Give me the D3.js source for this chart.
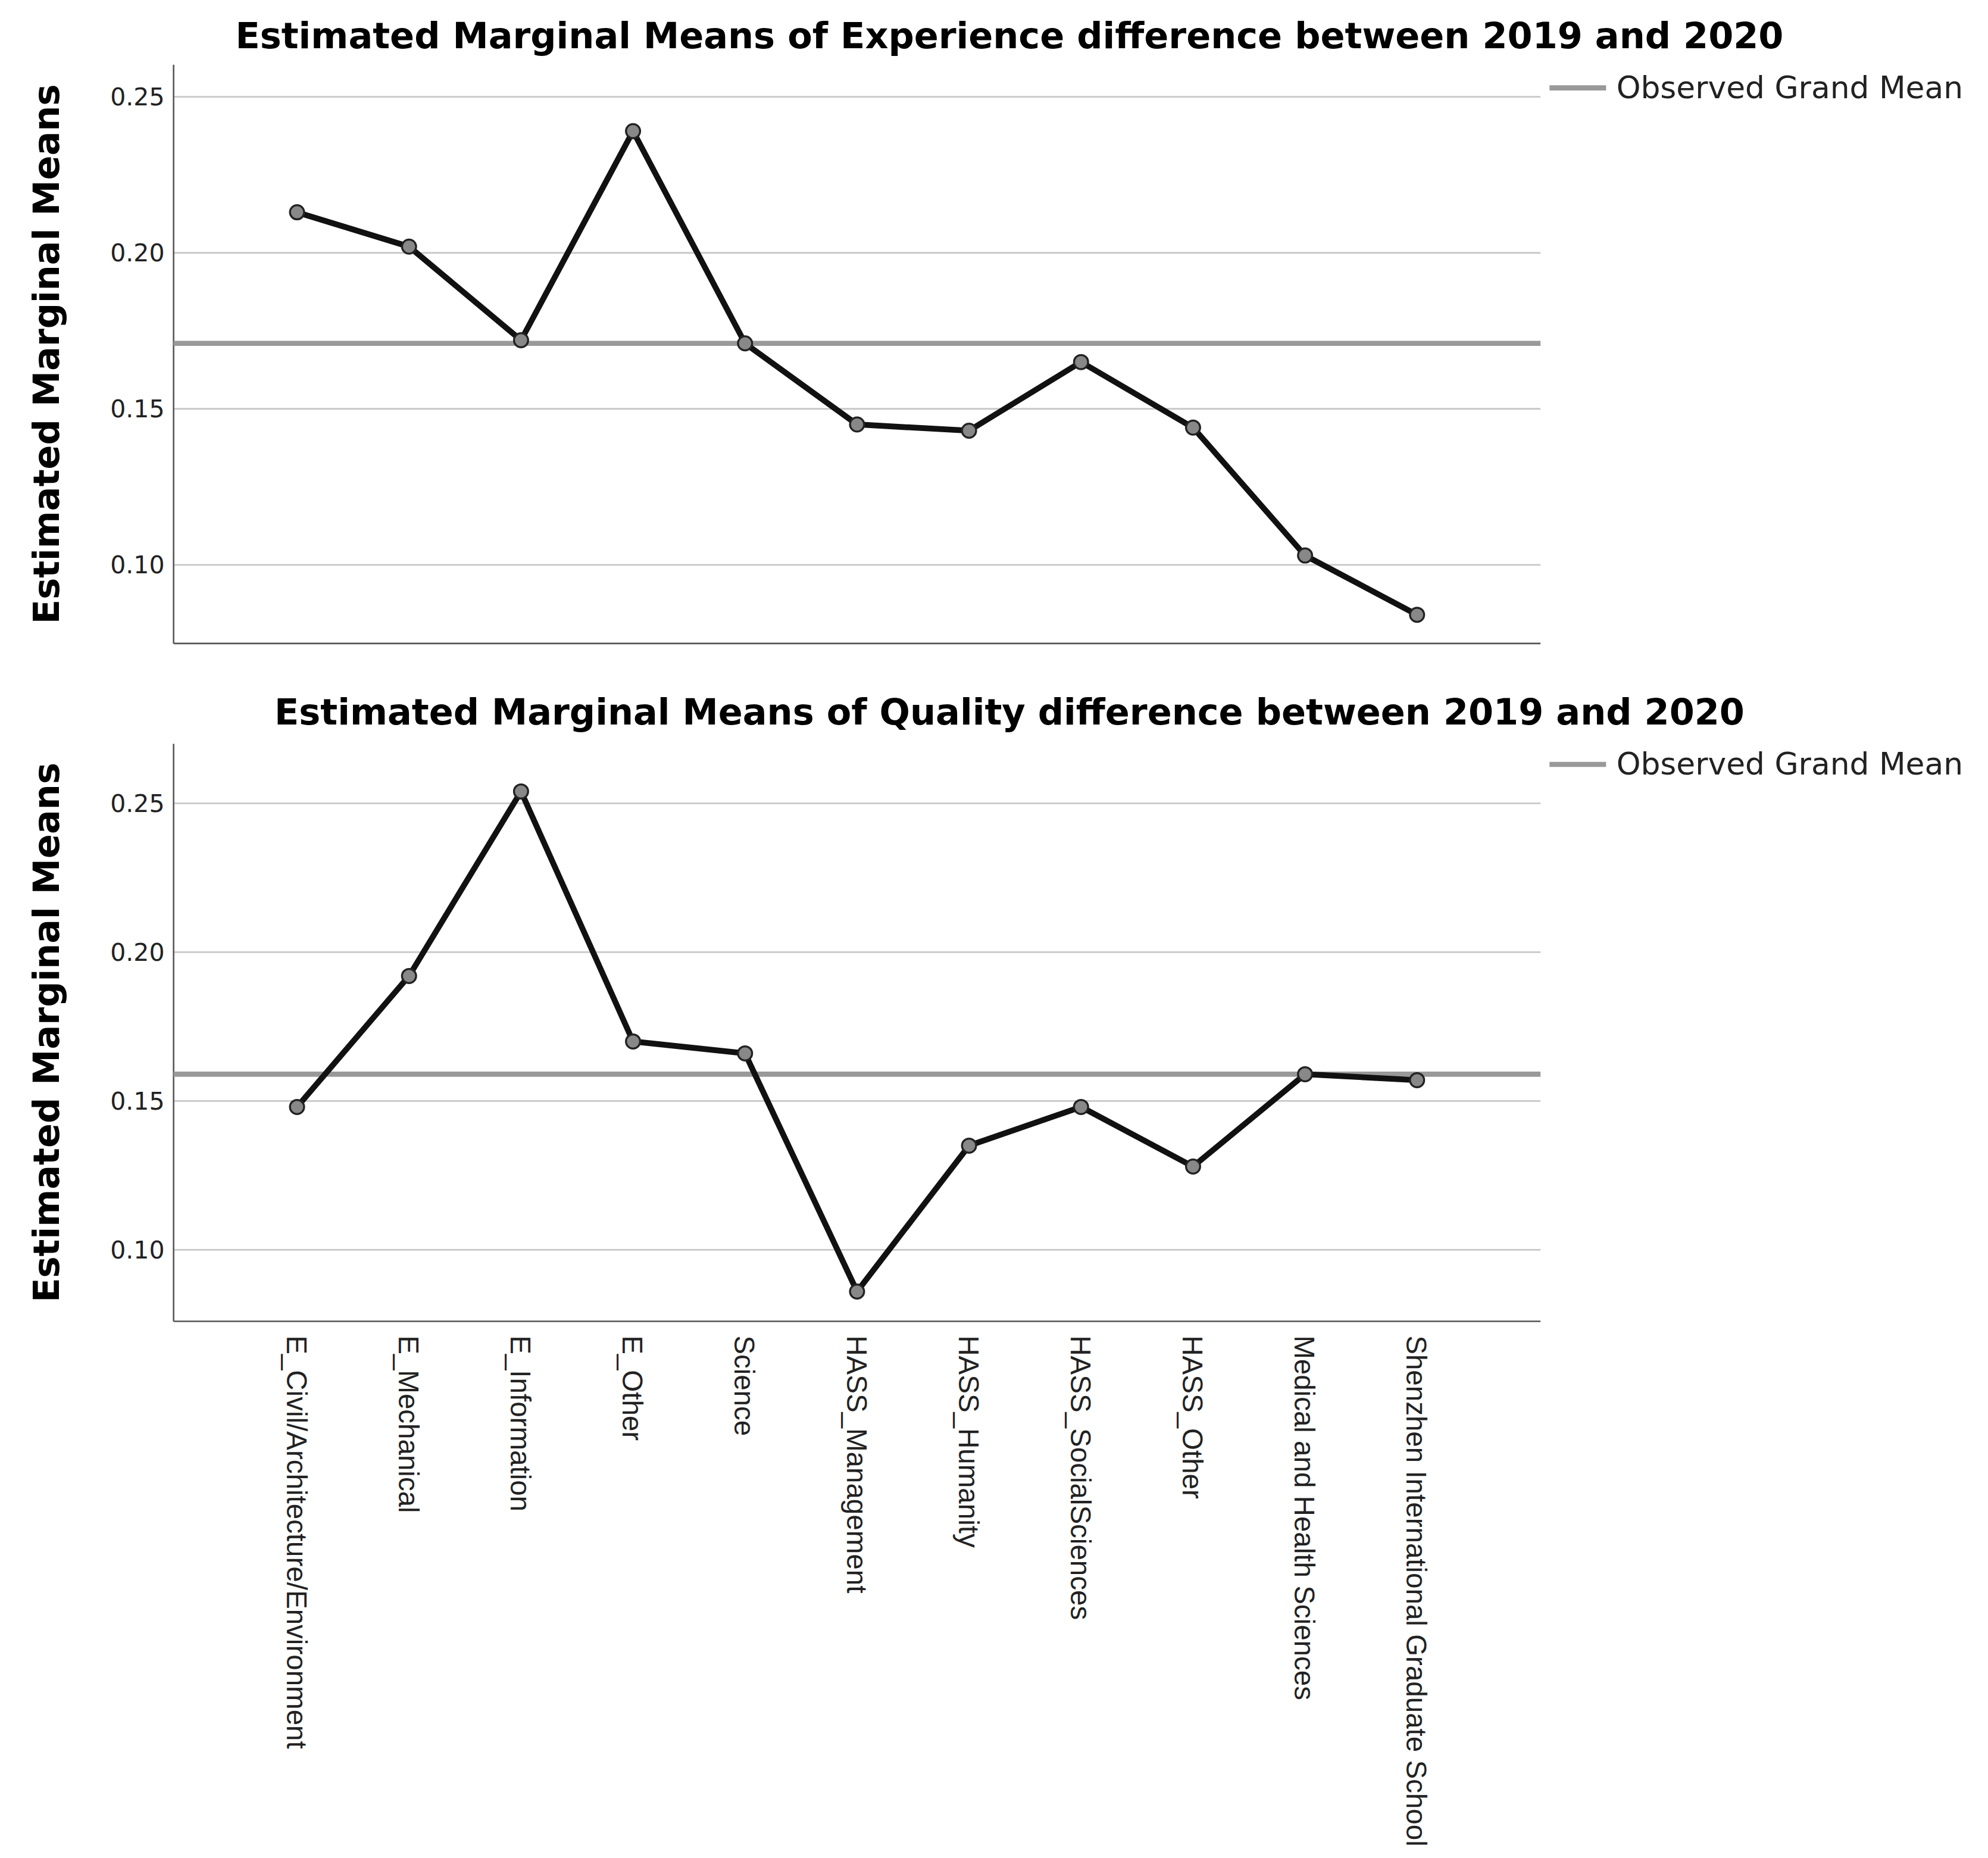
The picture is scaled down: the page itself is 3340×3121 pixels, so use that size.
<!DOCTYPE html>
<html><head><meta charset="utf-8">
<script src="https://cdn.jsdelivr.net/npm/d3@7"></script>
<style>body{margin:0;background:#fff}</style>
</head><body>
<div id="chart"></div>
<script>
const categories = ["E_Civil/Architecture/Environment","E_Mechanical","E_Information","E_Other","Science",
  "HASS_Management","HASS_Humanity","HASS_SocialSciences","HASS_Other","Medical and Health Sciences",
  "Shenzhen International Graduate School"];
const experience = [0.213,0.202,0.172,0.239,0.171,0.145,0.143,0.165,0.144,0.103,0.084];
const quality = [0.148,0.192,0.254,0.170,0.166,0.086,0.135,0.148,0.128,0.159,0.157];
const grandMeans = [0.171, 0.159];
const titles = ["Estimated Marginal Means of Experience difference between 2019 and 2020",
  "Estimated Marginal Means of Quality difference between 2019 and 2020"];
const yTicks = [0.10,0.15,0.20,0.25];

const svg = d3.select("#chart").append("svg")
  .attr("width",3340).attr("height",3121)
  .attr("viewBox","0 0 1546 1444");

const x = d3.scalePoint().domain(categories).range([231,1102]);

const panels = [
  {data: experience, top:50, bottom:500, domain:[0.0748,0.2603], titleY:27},
  {data: quality, top:578, bottom:1027, domain:[0.0760,0.2700], titleY:553}
];

panels.forEach((p,i) => {
  const y = d3.scaleLinear().domain(p.domain).range([p.bottom,p.top]);
  const g = svg.append("g");

  g.selectAll(".grid").data(yTicks).enter().append("line")
    .attr("x1",135).attr("x2",1198).attr("y1",d=>y(d)).attr("y2",d=>y(d))
    .attr("stroke","#c8c8c8").attr("stroke-width",1.3);

  g.append("line").attr("x1",135).attr("x2",1198).attr("y1",p.bottom).attr("y2",p.bottom)
    .attr("stroke","#555").attr("stroke-width",1.2);
  g.append("line").attr("x1",135).attr("x2",135).attr("y1",p.top).attr("y2",p.bottom)
    .attr("stroke","#555").attr("stroke-width",1.2);

  const yAxis = d3.axisLeft(y).tickValues(yTicks).tickFormat(d3.format(".2f")).tickSize(0).tickPadding(0);
  g.append("g").attr("transform","translate(128,0)").call(yAxis)
    .call(a=>a.select(".domain").remove())
    .selectAll("text").attr("font-family","DejaVu Sans").attr("font-size",19).attr("fill","#222");

  g.append("line").attr("x1",135).attr("x2",1198)
    .attr("y1",y(grandMeans[i])).attr("y2",y(grandMeans[i]))
    .attr("stroke","#999").attr("stroke-width",4);

  const line = d3.line().x((d,j)=>x(categories[j])).y(d=>y(d));
  g.append("path").datum(p.data).attr("d",line)
    .attr("fill","none").attr("stroke","#111").attr("stroke-width",4.5).attr("stroke-linejoin","round");
  g.selectAll(".pt").data(p.data).enter().append("circle")
    .attr("cx",(d,j)=>x(categories[j])).attr("cy",d=>y(d)).attr("r",5.5)
    .attr("fill","#888").attr("stroke","#222").attr("stroke-width",1.5);

  svg.append("text").attr("x",785).attr("y",p.titleY+10).attr("text-anchor","middle")
    .attr("font-family","DejaVu Sans").attr("font-weight","bold").attr("font-size",28)
    .text(titles[i]);

  svg.append("text").attr("transform",`translate(46,${(p.top+p.bottom)/2}) rotate(-90)`)
    .attr("text-anchor","middle").attr("font-family","DejaVu Sans").attr("font-weight","bold")
    .attr("font-size",28).text("Estimated Marginal Means");

  svg.append("line").attr("x1",1205).attr("x2",1249).attr("y1",p.titleY+41).attr("y2",p.titleY+41)
    .attr("stroke","#999").attr("stroke-width",4);
  svg.append("text").attr("x",1257).attr("y",p.titleY+49).attr("font-family","DejaVu Sans")
    .attr("font-size",24).attr("fill","#222").text("Observed Grand Mean");
});

svg.selectAll(".xl").data(categories).enter().append("text")
  .attr("transform",d=>`translate(${x(d)-8},1038) rotate(90)`)
  .attr("font-family","Liberation Sans").attr("font-size",22).attr("fill","#222")
  .text(d=>d);
</script>
</body></html>
